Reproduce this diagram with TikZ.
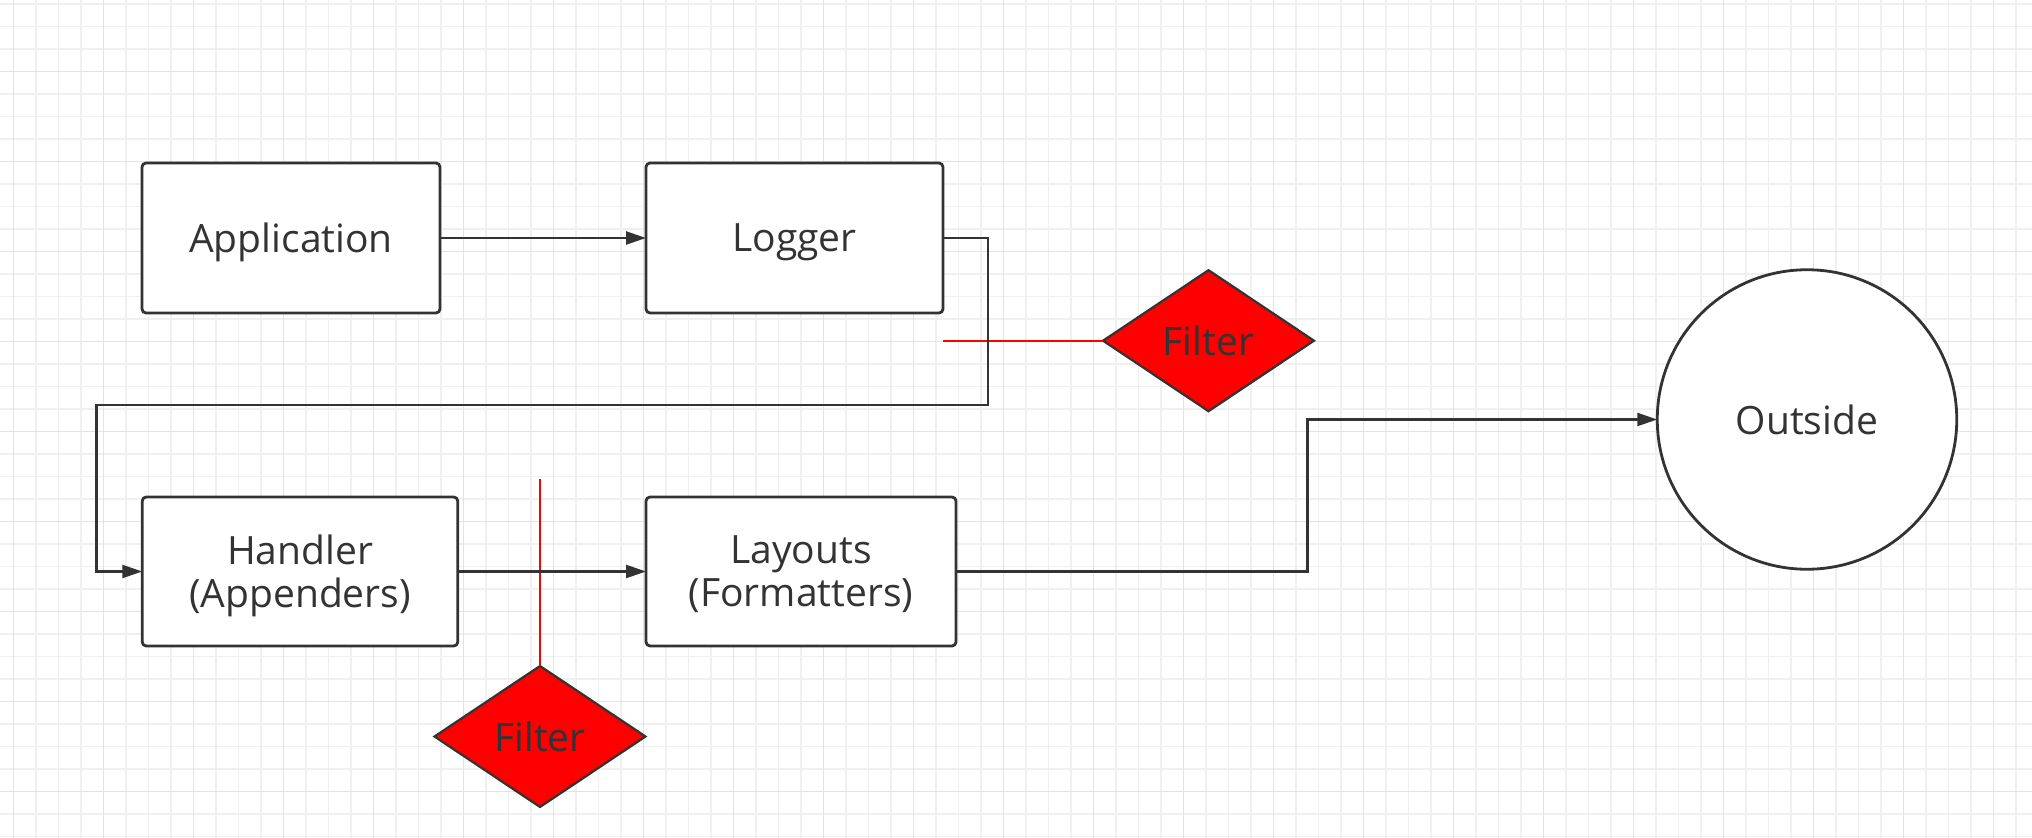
\documentclass[tikz,border=0pt]{standalone}
\usepackage{fontspec}
\setmainfont{Open Sans}
\usetikzlibrary{shapes.geometric,arrows.meta,calc}
\definecolor{ink}{HTML}{333333}
\definecolor{gridminor}{HTML}{F0F0F0}
\definecolor{gridmajor}{HTML}{E3E3E3}
\definecolor{filterred}{HTML}{FF0000}
\tikzset{
  box/.style={draw=ink, line width=1.4pt, rounded corners=2pt, fill=white, inner sep=0pt, outer sep=0pt,
    text=ink, align=center, text depth=0pt, font=\fontsize{19.5}{21.5}\selectfont},
  filterbox/.style={diamond, draw=ink, line width=1.1pt, fill=filterred, inner sep=0pt, outer sep=0pt,
    minimum width=105.5pt, minimum height=70.5pt, text=ink, font=\fontsize{19.5}{21.5}\selectfont},
  roundbox/.style={circle, draw=ink, line width=1.4pt, fill=white, inner sep=0pt, outer sep=0pt,
    minimum size=149.75pt, text=ink, font=\fontsize{19.5}{21.5}\selectfont},
  conn/.style={draw=ink, line width=1.2pt, -{Triangle[length=10pt,width=6.5pt]}},
  redline/.style={draw=filterred, line width=1pt},
}
\begin{document}
\begin{tikzpicture}[x=0.5pt,y=-0.5pt]
\useasboundingbox (0,0) rectangle (2032,838);
\fill[white] (0,0) rectangle (2032,838);
% grid
\foreach \i in {0,...,90} {\draw[gridminor, line width=0.6pt] ({13.5+22.5*\i},0) -- ({13.5+22.5*\i},838);}
\foreach \j in {0,...,37} {\draw[gridminor, line width=0.6pt] (0,{4+22.5*\j}) -- (2032,{4+22.5*\j});}
\foreach \i in {0,...,22} {\draw[gridmajor, line width=0.8pt] ({13.5+90*\i},0) -- ({13.5+90*\i},838);}
\foreach \j in {0,...,8} {\draw[gridmajor, line width=0.8pt] (0,{71.5+90*\j}) -- (2032,{71.5+90*\j});}

% nodes
\node[box, minimum width=149pt, minimum height=75pt] (app) at (291,238) {Application};
\node[box, minimum width=148.5pt, minimum height=75pt] (logger) at (794.5,238) {Logger};
\node[box, minimum width=157.75pt, minimum height=74.5pt] (handler) at (300,571.5) {Handler\\(Appenders)};
\node[box, minimum width=155pt, minimum height=74.5pt] (layouts) at (801,571.5) {Layouts\\(Formatters)};
\node[roundbox] (outside) at (1807,419.5) {Outside};
\node[filterbox] (f1) at (1208.5,340.7) {Filter};
\node[filterbox] (f2) at (540,736.5) {Filter};

% red filter lines
\draw[redline] (logger.east |- f1.west) -- (f1.west);
\draw[redline] (f2.north) -- ++(0,-187);

% connectors
\draw[conn] (app.east) -- (logger.west);
\draw[conn] (logger.east) -- (988,238) -- (988,405) -- (96.5,405) |- (handler.west);
\draw[conn] (handler.east) -- (layouts.west);
\draw[conn] (layouts.east) -- (1307.5,571.5) |- (outside.west);
\end{tikzpicture}
\end{document}
